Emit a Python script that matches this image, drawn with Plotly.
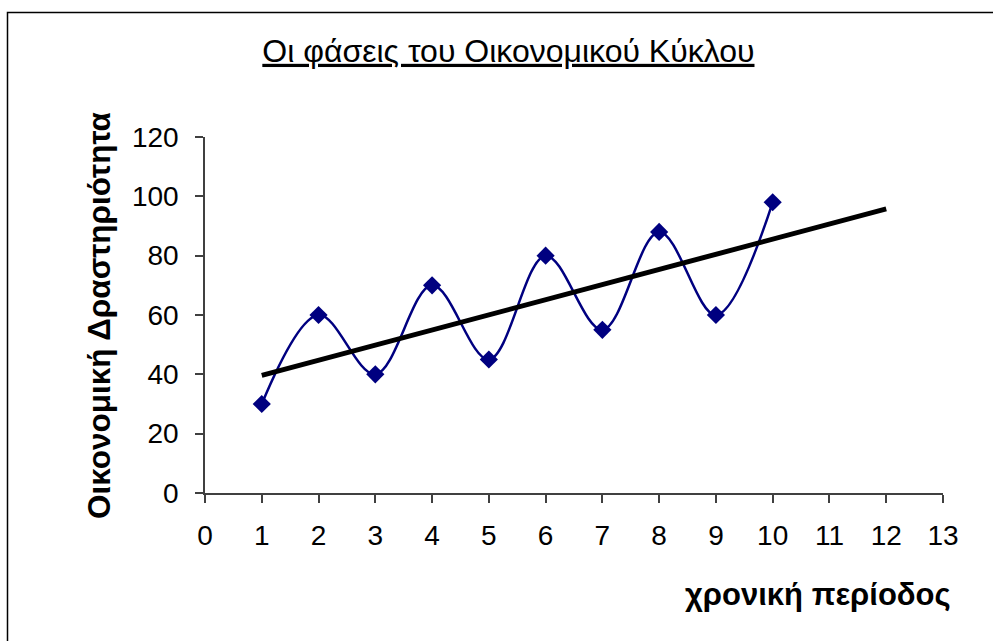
import numpy as np
import plotly.graph_objects as go

# Economic activity per time period
periods = [1, 2, 3, 4, 5, 6, 7, 8, 9, 10]
activity = [30, 60, 40, 70, 45, 80, 55, 88, 60, 98]

# Linear trend fitted to the observations, extended forward to period 12
trend_x = [1, 12]
slope, intercept = np.polyfit(periods, activity, 1)
trend_y = [slope * x + intercept for x in trend_x]

x_ticks = list(range(0, 14))
y_ticks = list(range(0, 121, 20))

FONT = "Liberation Sans, Arial, sans-serif"

fig = go.Figure()

fig.add_trace(go.Scatter(
    x=periods, y=activity,
    mode="lines+markers",
    line=dict(color="#000080", width=2.5, shape="spline", smoothing=1.0),
    marker=dict(symbol="diamond", size=14, color="#000080"),
    showlegend=False,
))

fig.add_trace(go.Scatter(
    x=trend_x, y=trend_y,
    mode="lines",
    line=dict(color="#000000", width=5),
    showlegend=False,
))

fig.update_layout(
    width=993, height=641,
    paper_bgcolor="white", plot_bgcolor="white",
    margin=dict(l=205, r=50, t=137, b=148),
    font=dict(family=FONT, color="black"),
    title=dict(
        text="<u>Οι φάσεις του Οικονομικού Κύκλου</u>",
        x=0.512, xanchor="center", y=0.921, yanchor="middle",
        font=dict(size=32, family=FONT, color="black"),
    ),
    xaxis=dict(
        range=[0, 13], tickvals=x_ticks, ticktext=[str(v) for v in x_ticks],
        showgrid=False, zeroline=False,
        showline=True, linecolor="#404040", linewidth=1.5,
        ticks="outside", ticklen=8, tickcolor="#404040", tickwidth=1.5,
        ticklabelstandoff=9,
        tickfont=dict(size=28, family=FONT, color="black"),
    ),
    yaxis=dict(
        range=[0, 120], tickvals=y_ticks, ticktext=[str(v) for v in y_ticks],
        showgrid=False, zeroline=False,
        showline=True, linecolor="#404040", linewidth=1.5,
        ticks="outside", ticklen=8, tickcolor="#404040", tickwidth=1.5,
        ticklabelstandoff=11,
        tickfont=dict(size=28, family=FONT, color="black"),
    ),
    annotations=[
        dict(
            text="<b>Οικονομική Δραστηριότητα</b>",
            xref="paper", yref="paper", x=-0.1436, y=0.5,
            xanchor="center", yanchor="middle", textangle=-90, showarrow=False,
            font=dict(size=31.5, family=FONT, color="black"),
        ),
        dict(
            text="<b>χρονική περίοδος</b>",
            xref="paper", yref="paper", x=(953 - 205) / 738, y=-0.2865,
            xanchor="right", yanchor="middle", showarrow=False,
            font=dict(size=31, family=FONT, color="black"),
        ),
    ],
    shapes=[
        dict(
            type="rect", xref="paper", yref="paper",
            x0=-197.5 / 738, x1=1.2, y0=-0.5, y1=(493 - 12.5) / 356,
            line=dict(color="black", width=1.5), fillcolor="rgba(0,0,0,0)",
            layer="below",
        ),
    ],
)

fig.write_html("out.html")
